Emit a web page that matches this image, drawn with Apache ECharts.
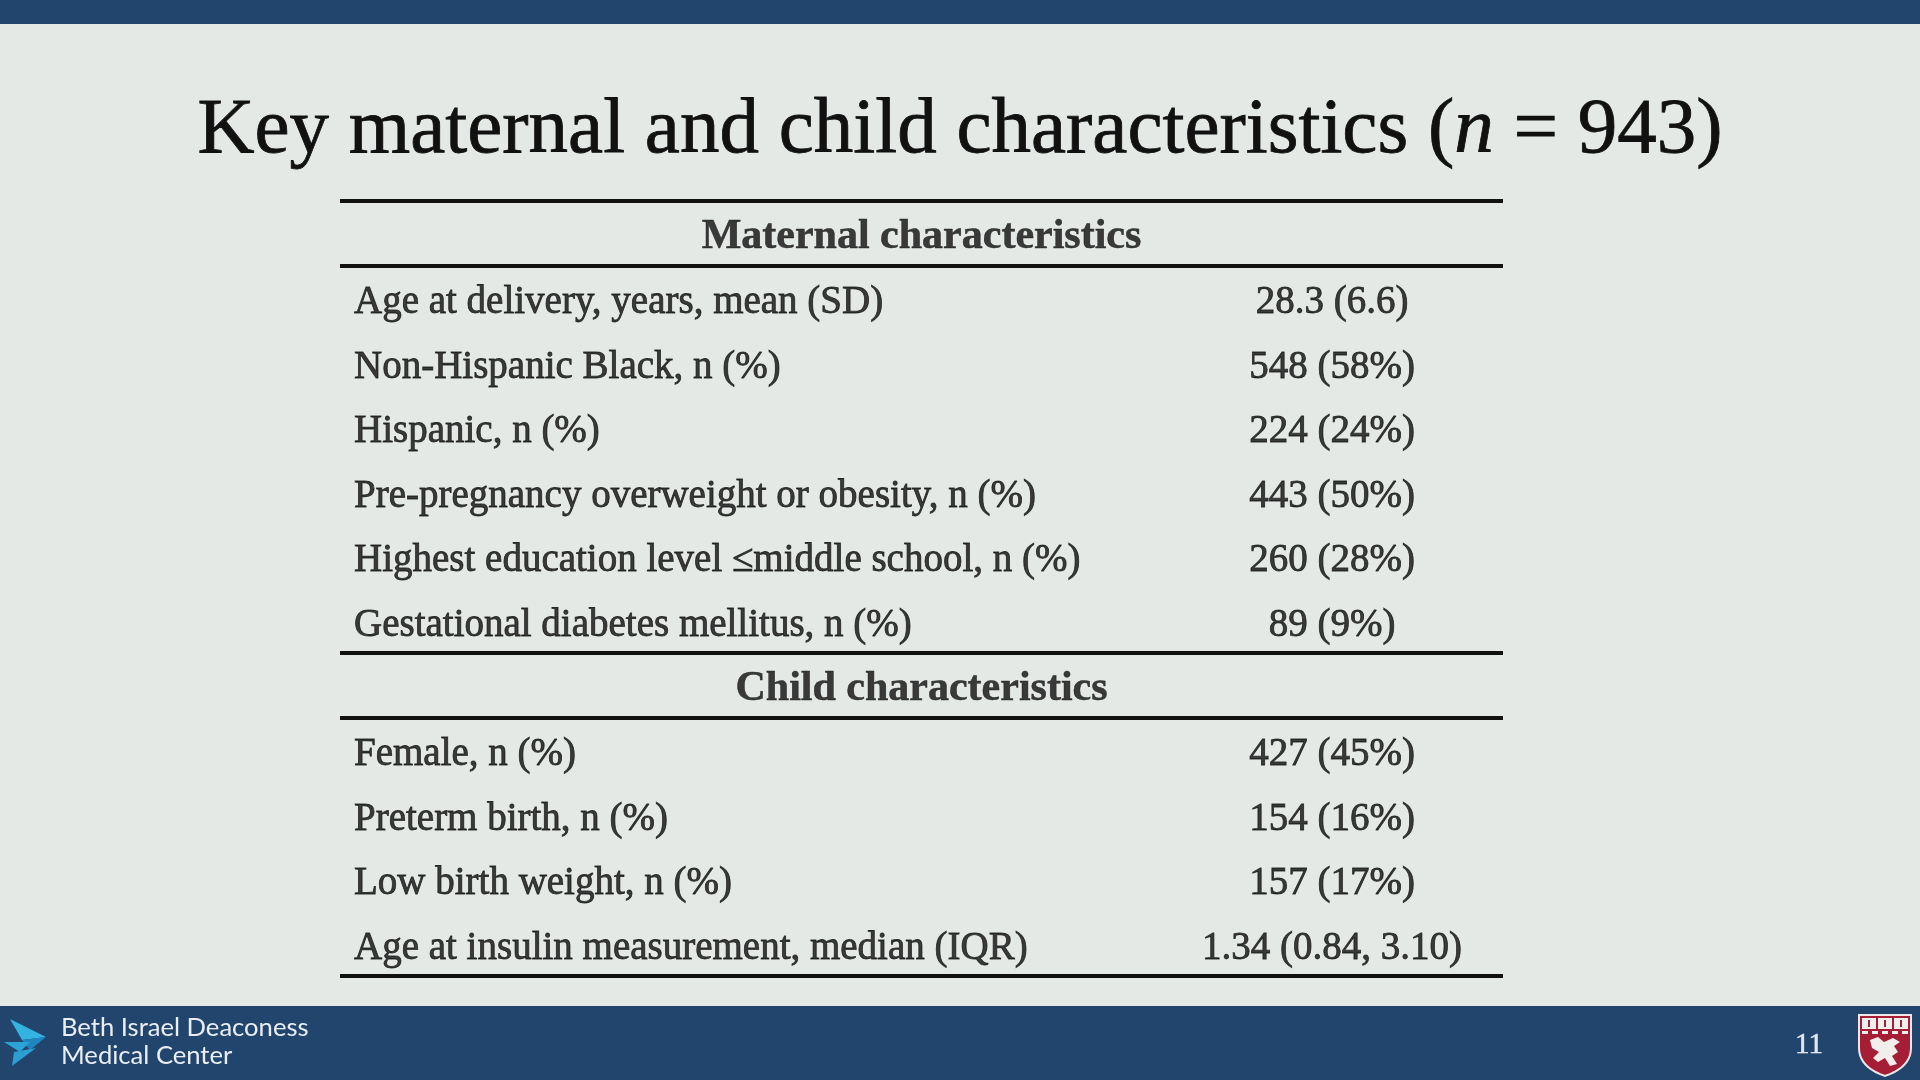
<!DOCTYPE html>
<html><head><meta charset="utf-8">
<script src="https://cdn.jsdelivr.net/npm/echarts@6.0.0/dist/echarts.min.js"></script>
<style>html,body{margin:0;padding:0;background:#e4e9e5;overflow:hidden}#chart{width:1920px;height:1080px}</style>
</head><body><div id="chart"></div>
<script>
const titleMain = 'Key maternal and child characteristics (';
const titleItalic = 'n';
const titleTail = ' = 943)';
const sectionTitles = ['Maternal characteristics', 'Child characteristics'];
const maternalLabels = [
  'Age at delivery, years, mean (SD)',
  'Non-Hispanic Black, n (%)',
  'Hispanic, n (%)',
  'Pre-pregnancy overweight or obesity, n (%)',
  'Highest education level \u2264middle school, n (%)',
  'Gestational diabetes mellitus, n (%)'
];
const maternalValues = ['28.3 (6.6)', '548 (58%)', '224 (24%)', '443 (50%)', '260 (28%)', '89 (9%)'];
const childLabels = [
  'Female, n (%)',
  'Preterm birth, n (%)',
  'Low birth weight, n (%)',
  'Age at insulin measurement, median (IQR)'
];
const childValues = ['427 (45%)', '154 (16%)', '157 (17%)', '1.34 (0.84, 3.10)'];
const footerLines = ['Beth Israel Deaconess', 'Medical Center'];
const pageNumber = '11';

const SERIF = "'Liberation Serif', 'DejaVu Serif', serif";
const TEXT = '#0c0c0c';

const rows = [];
rows.push({ kind: 'header', text: sectionTitles[0] });
maternalLabels.forEach((l, i) => rows.push({ kind: 'row', text: l, value: maternalValues[i] }));
rows.push({ kind: 'header', text: sectionTitles[1] });
childLabels.forEach((l, i) => rows.push({ kind: 'row', text: l, value: childValues[i] }));
const ruleRows = [0, 1, 1 + maternalLabels.length, 2 + maternalLabels.length, rows.length];

const labelData = [], valueData = [], headerData = [];
rows.forEach((r, i) => {
  const y = i + 0.5;
  if (r.kind === 'header') headerData.push([0.5, y, r.text]);
  else { labelData.push([0, y, r.text]); valueData.push([0.853, y, r.value]); }
});

function shieldPoints() {
  const pts = [[1859, 1015], [1911, 1015], [1911, 1048]];
  for (let t = 0.1; t <= 1.0001; t += 0.1) {
    const x = (1 - t) * (1 - t) * 1911 + 2 * (1 - t) * t * 1911 + t * t * 1885;
    const y = (1 - t) * (1 - t) * 1048 + 2 * (1 - t) * t * 1067 + t * t * 1076;
    pts.push([x, y]);
  }
  for (let t = 0.1; t <= 1.0001; t += 0.1) {
    const x = (1 - t) * (1 - t) * 1885 + 2 * (1 - t) * t * 1859 + t * t * 1859;
    const y = (1 - t) * (1 - t) * 1076 + 2 * (1 - t) * t * 1067 + t * t * 1048;
    pts.push([x, y]);
  }
  return pts;
}
const W = '#f2eeee';
function rect(x, y, w, h, fill, z) { return { type: 'rect', z: z || 12, shape: { x: x, y: y, width: w, height: h }, style: { fill: fill } }; }

const rowLabelStyle = {
  fontFamily: SERIF, fontSize: 39, color: TEXT,
  textBorderColor: TEXT, textBorderWidth: 0.8
};

const chart = echarts.init(document.getElementById('chart'), null, { renderer: 'canvas' });
chart.setOption({
  backgroundColor: '#e4e9e5',
  animation: false,
  title: {
    text: '{a|' + titleMain + '}{i|' + titleItalic + '}{a|' + titleTail + '}',
    left: 'center',
    top: 80,
    textStyle: {
      fontWeight: 'normal',
      rich: {
        a: { fontFamily: SERIF, fontSize: 79, fontWeight: 'normal', color: '#111', lineHeight: 92, textBorderColor: '#111', textBorderWidth: 0.8 },
        i: { fontFamily: SERIF, fontSize: 79, fontWeight: 'normal', fontStyle: 'italic', color: '#111', lineHeight: 92, textBorderColor: '#111', textBorderWidth: 0.8 }
      }
    }
  },
  grid: { left: 340, right: 417, top: 201, bottom: 104 },
  xAxis: { type: 'value', min: 0, max: 1, show: false },
  yAxis: { type: 'value', min: 0, max: rows.length, inverse: true, show: false },
  series: [
    {
      name: 'labels', type: 'scatter', symbolSize: 0, silent: true,
      data: labelData,
      label: Object.assign({
        show: true, position: 'right', distance: 14, offset: [0, 5],
        formatter: p => p.data[2]
      }, rowLabelStyle),
      markLine: {
        silent: true, symbol: 'none',
        label: { show: false },
        lineStyle: { color: '#111', width: 4, type: 'solid' },
        data: ruleRows.map(v => ({ yAxis: v }))
      }
    },
    {
      name: 'values', type: 'scatter', symbolSize: 0, silent: true,
      data: valueData,
      label: Object.assign({
        show: true, position: 'inside', align: 'center', verticalAlign: 'middle', offset: [0, 5],
        formatter: p => p.data[2]
      }, rowLabelStyle)
    },
    {
      name: 'headers', type: 'scatter', symbolSize: 0, silent: true,
      data: headerData,
      label: {
        show: true, position: 'inside', align: 'center', verticalAlign: 'middle', offset: [0, 4],
        formatter: p => p.data[2],
        fontFamily: SERIF, fontSize: 42, fontWeight: 'bold', color: TEXT,
        textBorderColor: TEXT, textBorderWidth: 0.5
      }
    }
  ],
  graphic: [
    rect(0, 0, 1920, 24, '#22456e', 10),
    rect(0, 1006, 1920, 74, '#22456e', 10),
    { type: 'polygon', z: 11, shape: { points: [[10, 1019], [46, 1037], [22, 1040]] }, style: { fill: '#35b3e0' } },
    { type: 'polygon', z: 11, shape: { points: [[22, 1040], [46, 1037], [30, 1050]] }, style: { fill: '#1f86c0' } },
    { type: 'polygon', z: 11, shape: { points: [[4, 1042], [30, 1042], [20, 1052]] }, style: { fill: '#2aa3d6' } },
    { type: 'polygon', z: 11, shape: { points: [[14, 1052], [36, 1048], [12, 1066]] }, style: { fill: '#2b9fd2' } },
    { type: 'text', z: 12, x: 61, y: 1015, style: { text: footerLines[0], font: "400 25.6px Lato, 'Open Sans', sans-serif", fill: '#e9eef4' } },
    { type: 'text', z: 12, x: 61, y: 1043, style: { text: footerLines[1], font: "400 25.6px Lato, 'Open Sans', sans-serif", fill: '#e9eef4' } },
    { type: 'text', z: 12, x: 1795, y: 1031, style: { text: pageNumber, font: "29px 'Liberation Serif', serif", fill: '#e3e9f0', stroke: '#e3e9f0', lineWidth: 0.5 } },
    { type: 'polygon', z: 11, shape: { points: shieldPoints() }, style: { fill: '#a51e36', stroke: '#f0e8e8', lineWidth: 2 } },
    rect(1862, 1018, 14, 11, W), rect(1878, 1018, 14, 11, W), rect(1894, 1018, 14, 11, W),
    rect(1868, 1020, 2, 7, '#8a2a3a', 13), rect(1884, 1020, 2, 7, '#8a2a3a', 13), rect(1900, 1020, 2, 7, '#8a2a3a', 13),
    rect(1862, 1031, 6, 3, W), rect(1872, 1031, 6, 3, W), rect(1882, 1031, 6, 3, W), rect(1892, 1031, 6, 3, W), rect(1902, 1031, 6, 3, W),
    { type: 'polygon', z: 12, shape: { points: [[1870, 1040], [1878, 1037], [1884, 1042], [1893, 1038], [1900, 1042], [1894, 1046], [1898, 1052], [1892, 1056], [1897, 1064], [1890, 1066], [1885, 1058], [1878, 1062], [1873, 1058], [1879, 1052], [1872, 1048]] }, style: { fill: W } }
  ]
});
</script>
</body></html>
